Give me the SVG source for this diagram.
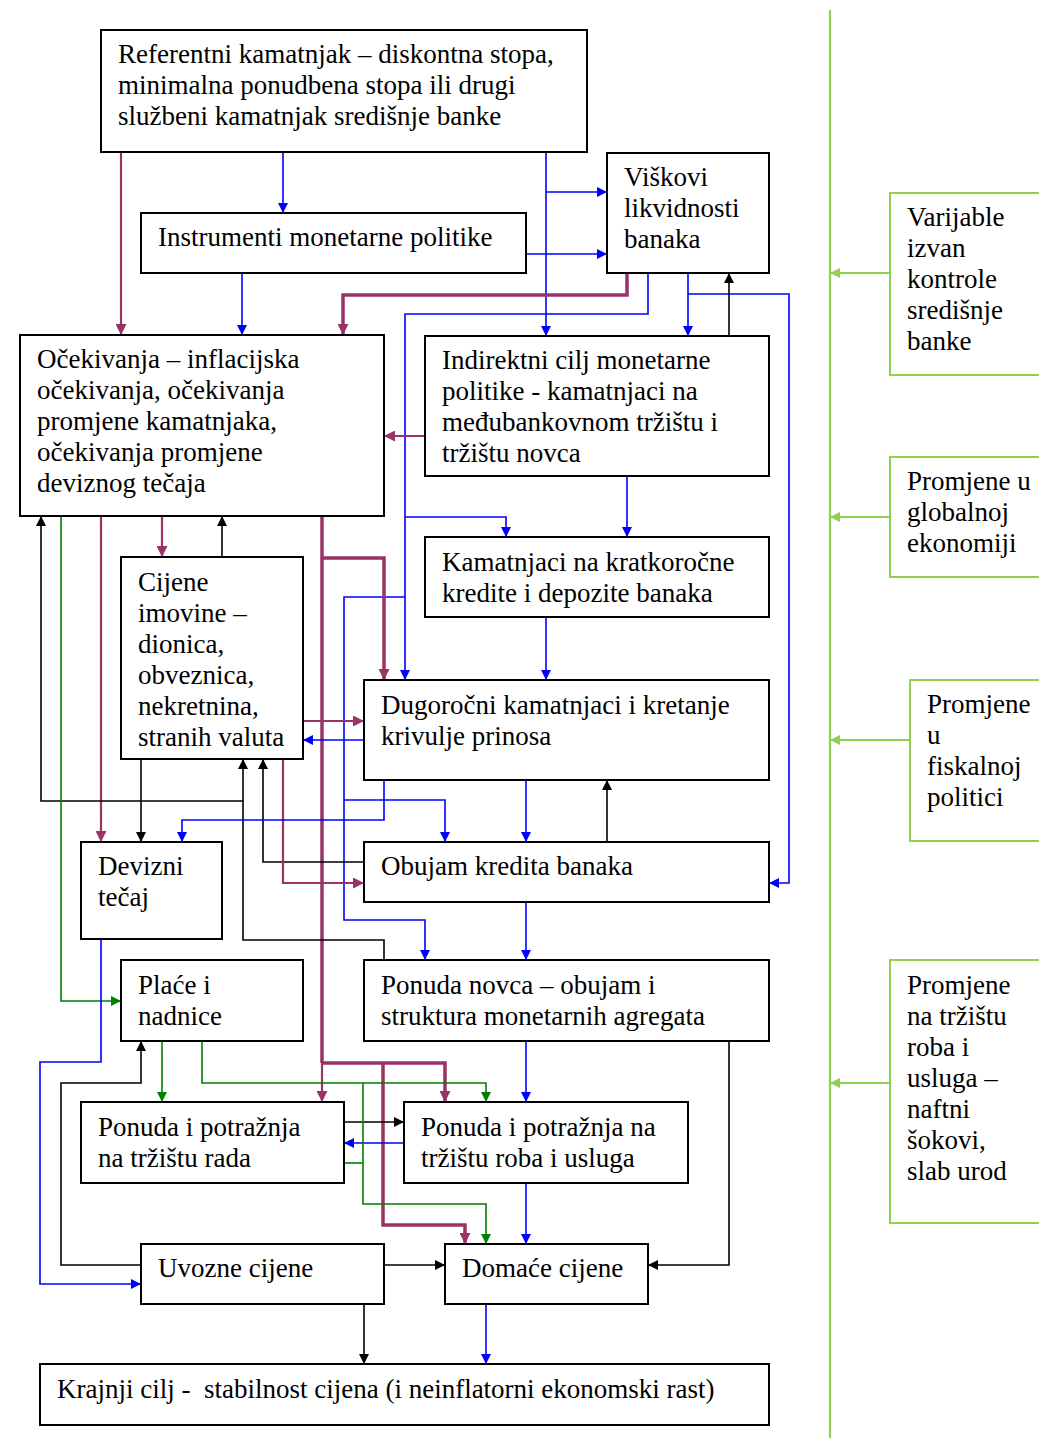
<svg xmlns="http://www.w3.org/2000/svg" width="1039" height="1438" viewBox="0 0 1039 1438">
<style>
.box{fill:#fff;stroke:#000;stroke-width:2}
.gbox{fill:#fff;stroke:#92D050;stroke-width:2}
text{font-family:"Liberation Serif","Times New Roman",serif;font-size:27px;fill:#000}
.c{fill:none;stroke-linejoin:miter}
.k{stroke:#000;stroke-width:1.6}
.b{stroke:#0000FF;stroke-width:1.6}
.pt{stroke:#993366;stroke-width:3.5}
.pn{stroke:#993366;stroke-width:2.2}
.g{stroke:#008000;stroke-width:1.6}
.l{stroke:#92D050;stroke-width:2.2}
</style>
<defs>
<marker id="ak" viewBox="0 0 10 10" refX="10" refY="5" markerWidth="11" markerHeight="10" markerUnits="userSpaceOnUse" orient="auto"><path d="M0,0L10,5L0,10z" fill="#000"/></marker>
<marker id="ab" viewBox="0 0 10 10" refX="10" refY="5" markerWidth="11" markerHeight="10" markerUnits="userSpaceOnUse" orient="auto"><path d="M0,0L10,5L0,10z" fill="#0000FF"/></marker>
<marker id="ap" viewBox="0 0 10 10" refX="10" refY="5" markerWidth="12" markerHeight="11" markerUnits="userSpaceOnUse" orient="auto"><path d="M0,0L10,5L0,10z" fill="#993366"/></marker>
<marker id="ag" viewBox="0 0 10 10" refX="10" refY="5" markerWidth="11" markerHeight="10" markerUnits="userSpaceOnUse" orient="auto"><path d="M0,0L10,5L0,10z" fill="#008000"/></marker>
<marker id="al" viewBox="0 0 10 10" refX="10" refY="5" markerWidth="11" markerHeight="10" markerUnits="userSpaceOnUse" orient="auto"><path d="M0,0L10,5L0,10z" fill="#92D050"/></marker>
</defs>
<rect width="1039" height="1438" fill="#fff"/>

<g id="connectors">
<path class="c pn" d="M121,152V335" marker-end="url(#ap)"/>
<path class="c b" d="M283,152V213" marker-end="url(#ab)"/>
<path class="c b" d="M546,152V336" marker-end="url(#ab)"/>
<path class="c b" d="M546,192H607" marker-end="url(#ab)"/>
<path class="c b" d="M526,254H607" marker-end="url(#ab)"/>
<path class="c b" d="M242,273V335" marker-end="url(#ab)"/>
<path class="c pt" d="M627,273V295H343V335" marker-end="url(#ap)"/>
<path class="c b" d="M648,273V314H405V680" marker-end="url(#ab)"/>
<path class="c b" d="M405,517H506V537" marker-end="url(#ab)"/>
<path class="c b" d="M405,597H344V920H425V960" marker-end="url(#ab)"/>
<path class="c b" d="M344,800H445V842" marker-end="url(#ab)"/>
<path class="c b" d="M688,273V336" marker-end="url(#ab)"/>
<path class="c b" d="M688,294H789V883H769" marker-end="url(#ab)"/>
<path class="c k" d="M729,336V273" marker-end="url(#ak)"/>
<path class="c pn" d="M425,436H384" marker-end="url(#ap)"/>
<path class="c b" d="M627,476V537" marker-end="url(#ab)"/>
<path class="c b" d="M546,617V680" marker-end="url(#ab)"/>
<path class="c pt" d="M322,516V1063"/>
<path class="c pn" d="M322,1063V1102" marker-end="url(#ap)"/>
<path class="c pt" d="M322,558H384V680" marker-end="url(#ap)"/>
<path class="c pt" d="M322,1063H445V1102" marker-end="url(#ap)"/>
<path class="c pt" d="M383,1063V1225H465V1244" marker-end="url(#ap)"/>
<path class="c pn" d="M101,516V842" marker-end="url(#ap)"/>
<path class="c pn" d="M162,516V557" marker-end="url(#ap)"/>
<path class="c k" d="M222,557V516" marker-end="url(#ak)"/>
<path class="c k" d="M384,960V940H243V759" marker-end="url(#ak)"/>
<path class="c k" d="M243,801H41V516" marker-end="url(#ak)"/>
<path class="c k" d="M364,862H263V759" marker-end="url(#ak)"/>
<path class="c k" d="M141,759V842" marker-end="url(#ak)"/>
<path class="c pn" d="M283,759V883H364" marker-end="url(#ap)"/>
<path class="c pn" d="M303,721H364" marker-end="url(#ap)"/>
<path class="c b" d="M364,740H303" marker-end="url(#ab)"/>
<path class="c b" d="M384,780V820H182V842" marker-end="url(#ab)"/>
<path class="c b" d="M526,780V842" marker-end="url(#ab)"/>
<path class="c k" d="M607,842V780" marker-end="url(#ak)"/>
<path class="c b" d="M526,902V960" marker-end="url(#ab)"/>
<path class="c b" d="M526,1041V1102" marker-end="url(#ab)"/>
<path class="c k" d="M729,1041V1265H648" marker-end="url(#ak)"/>
<path class="c b" d="M526,1183V1244" marker-end="url(#ab)"/>
<path class="c k" d="M344,1122H404" marker-end="url(#ak)"/>
<path class="c b" d="M404,1143H344" marker-end="url(#ab)"/>
<path class="c g" d="M202,1041V1083H486V1102" marker-end="url(#ag)"/>
<path class="c g" d="M363,1083V1204H486V1244" marker-end="url(#ag)"/>
<path class="c g" d="M344,1163H363"/>
<path class="c g" d="M162,1041V1102" marker-end="url(#ag)"/>
<path class="c g" d="M61,516V1001H121" marker-end="url(#ag)"/>
<path class="c b" d="M101,939V1062H40V1284H141" marker-end="url(#ab)"/>
<path class="c k" d="M141,1265H61V1083H141V1041" marker-end="url(#ak)"/>
<path class="c k" d="M384,1265H445" marker-end="url(#ak)"/>
<path class="c k" d="M364,1304V1364" marker-end="url(#ak)"/>
<path class="c b" d="M486,1304V1364" marker-end="url(#ab)"/>
<path class="c l" d="M830,10V1438"/>
<path class="c l" d="M890,273H830" marker-end="url(#al)"/>
<path class="c l" d="M890,517H830" marker-end="url(#al)"/>
<path class="c l" d="M910,740H830" marker-end="url(#al)"/>
<path class="c l" d="M890,1083H830" marker-end="url(#al)"/>
</g>

<g id="referentni"><rect class="box" x="101" y="30" width="486" height="122"/>
<text><tspan x="118" y="63">Referentni kamatnjak – diskontna stopa,</tspan><tspan x="118" dy="31">minimalna ponudbena stopa ili drugi</tspan><tspan x="118" dy="31">službeni kamatnjak središnje banke</tspan></text></g>

<g id="instrumenti"><rect class="box" x="141" y="213" width="385" height="60"/>
<text x="158" y="246">Instrumenti monetarne politike</text></g>

<g id="viskovi"><rect class="box" x="607" y="153" width="162" height="120"/>
<text><tspan x="624" y="186">Viškovi</tspan><tspan x="624" dy="31">likvidnosti</tspan><tspan x="624" dy="31">banaka</tspan></text></g>

<g id="ocekivanja"><rect class="box" x="20" y="335" width="364" height="181"/>
<text><tspan x="37" y="368">Očekivanja – inflacijska</tspan><tspan x="37" dy="31">očekivanja, očekivanja</tspan><tspan x="37" dy="31">promjene kamatnjaka,</tspan><tspan x="37" dy="31">očekivanja promjene</tspan><tspan x="37" dy="31">deviznog tečaja</tspan></text></g>

<g id="indirektni"><rect class="box" x="425" y="336" width="344" height="140"/>
<text><tspan x="442" y="369">Indirektni cilj monetarne</tspan><tspan x="442" dy="31">politike - kamatnjaci na</tspan><tspan x="442" dy="31">međubankovnom tržištu i</tspan><tspan x="442" dy="31">tržištu novca</tspan></text></g>

<g id="kamatnjaci"><rect class="box" x="425" y="537" width="344" height="80"/>
<text><tspan x="442" y="571">Kamatnjaci na kratkoročne</tspan><tspan x="442" dy="31">kredite i depozite banaka</tspan></text></g>

<g id="cijene-imovine"><rect class="box" x="121" y="557" width="182" height="202"/>
<text><tspan x="138" y="591">Cijene</tspan><tspan x="138" dy="31">imovine –</tspan><tspan x="138" dy="31">dionica,</tspan><tspan x="138" dy="31">obveznica,</tspan><tspan x="138" dy="31">nekretnina,</tspan><tspan x="138" dy="31">stranih valuta</tspan></text></g>

<g id="dugorocni"><rect class="box" x="364" y="680" width="405" height="100"/>
<text><tspan x="381" y="714">Dugoročni kamatnjaci i kretanje</tspan><tspan x="381" dy="31">krivulje prinosa</tspan></text></g>

<g id="devizni"><rect class="box" x="81" y="842" width="141" height="97"/>
<text><tspan x="98" y="875">Devizni</tspan><tspan x="98" dy="31">tečaj</tspan></text></g>

<g id="obujam"><rect class="box" x="364" y="842" width="405" height="60"/>
<text x="381" y="875">Obujam kredita banaka</text></g>

<g id="place"><rect class="box" x="121" y="960" width="182" height="81"/>
<text><tspan x="138" y="994">Plaće i</tspan><tspan x="138" dy="31">nadnice</tspan></text></g>

<g id="ponuda-novca"><rect class="box" x="364" y="960" width="405" height="81"/>
<text><tspan x="381" y="994">Ponuda novca – obujam i</tspan><tspan x="381" dy="31">struktura monetarnih agregata</tspan></text></g>

<g id="trziste-rada"><rect class="box" x="81" y="1102" width="263" height="81"/>
<text><tspan x="98" y="1136">Ponuda i potražnja</tspan><tspan x="98" dy="31">na tržištu rada</tspan></text></g>

<g id="trziste-roba"><rect class="box" x="404" y="1102" width="284" height="81"/>
<text><tspan x="421" y="1136">Ponuda i potražnja na</tspan><tspan x="421" dy="31">tržištu roba i usluga</tspan></text></g>

<g id="uvozne"><rect class="box" x="141" y="1244" width="243" height="60"/>
<text x="158" y="1277">Uvozne cijene</text></g>

<g id="domace"><rect class="box" x="445" y="1244" width="203" height="60"/>
<text x="462" y="1277">Domaće cijene</text></g>

<g id="krajnji"><rect class="box" x="40" y="1364" width="729" height="61"/>
<text x="57" y="1398" xml:space="preserve">Krajnji cilj -  stabilnost cijena (i neinflatorni ekonomski rast)</text></g>

<g id="varijable"><rect class="gbox" x="890" y="193" width="155" height="182"/>
<text><tspan x="907" y="226">Varijable</tspan><tspan x="907" dy="31">izvan</tspan><tspan x="907" dy="31">kontrole</tspan><tspan x="907" dy="31">središnje</tspan><tspan x="907" dy="31">banke</tspan></text></g>

<g id="globalna"><rect class="gbox" x="890" y="457" width="155" height="120"/>
<text><tspan x="907" y="490">Promjene u</tspan><tspan x="907" dy="31">globalnoj</tspan><tspan x="907" dy="31">ekonomiji</tspan></text></g>

<g id="fiskalna"><rect class="gbox" x="910" y="680" width="135" height="161"/>
<text><tspan x="927" y="713">Promjene</tspan><tspan x="927" dy="31">u</tspan><tspan x="927" dy="31">fiskalnoj</tspan><tspan x="927" dy="31">politici</tspan></text></g>

<g id="trziste-shokovi"><rect class="gbox" x="890" y="960" width="155" height="263"/>
<text><tspan x="907" y="994">Promjene</tspan><tspan x="907" dy="31">na tržištu</tspan><tspan x="907" dy="31">roba i</tspan><tspan x="907" dy="31">usluga –</tspan><tspan x="907" dy="31">naftni</tspan><tspan x="907" dy="31">šokovi,</tspan><tspan x="907" dy="31">slab urod</tspan></text></g>
</svg>
